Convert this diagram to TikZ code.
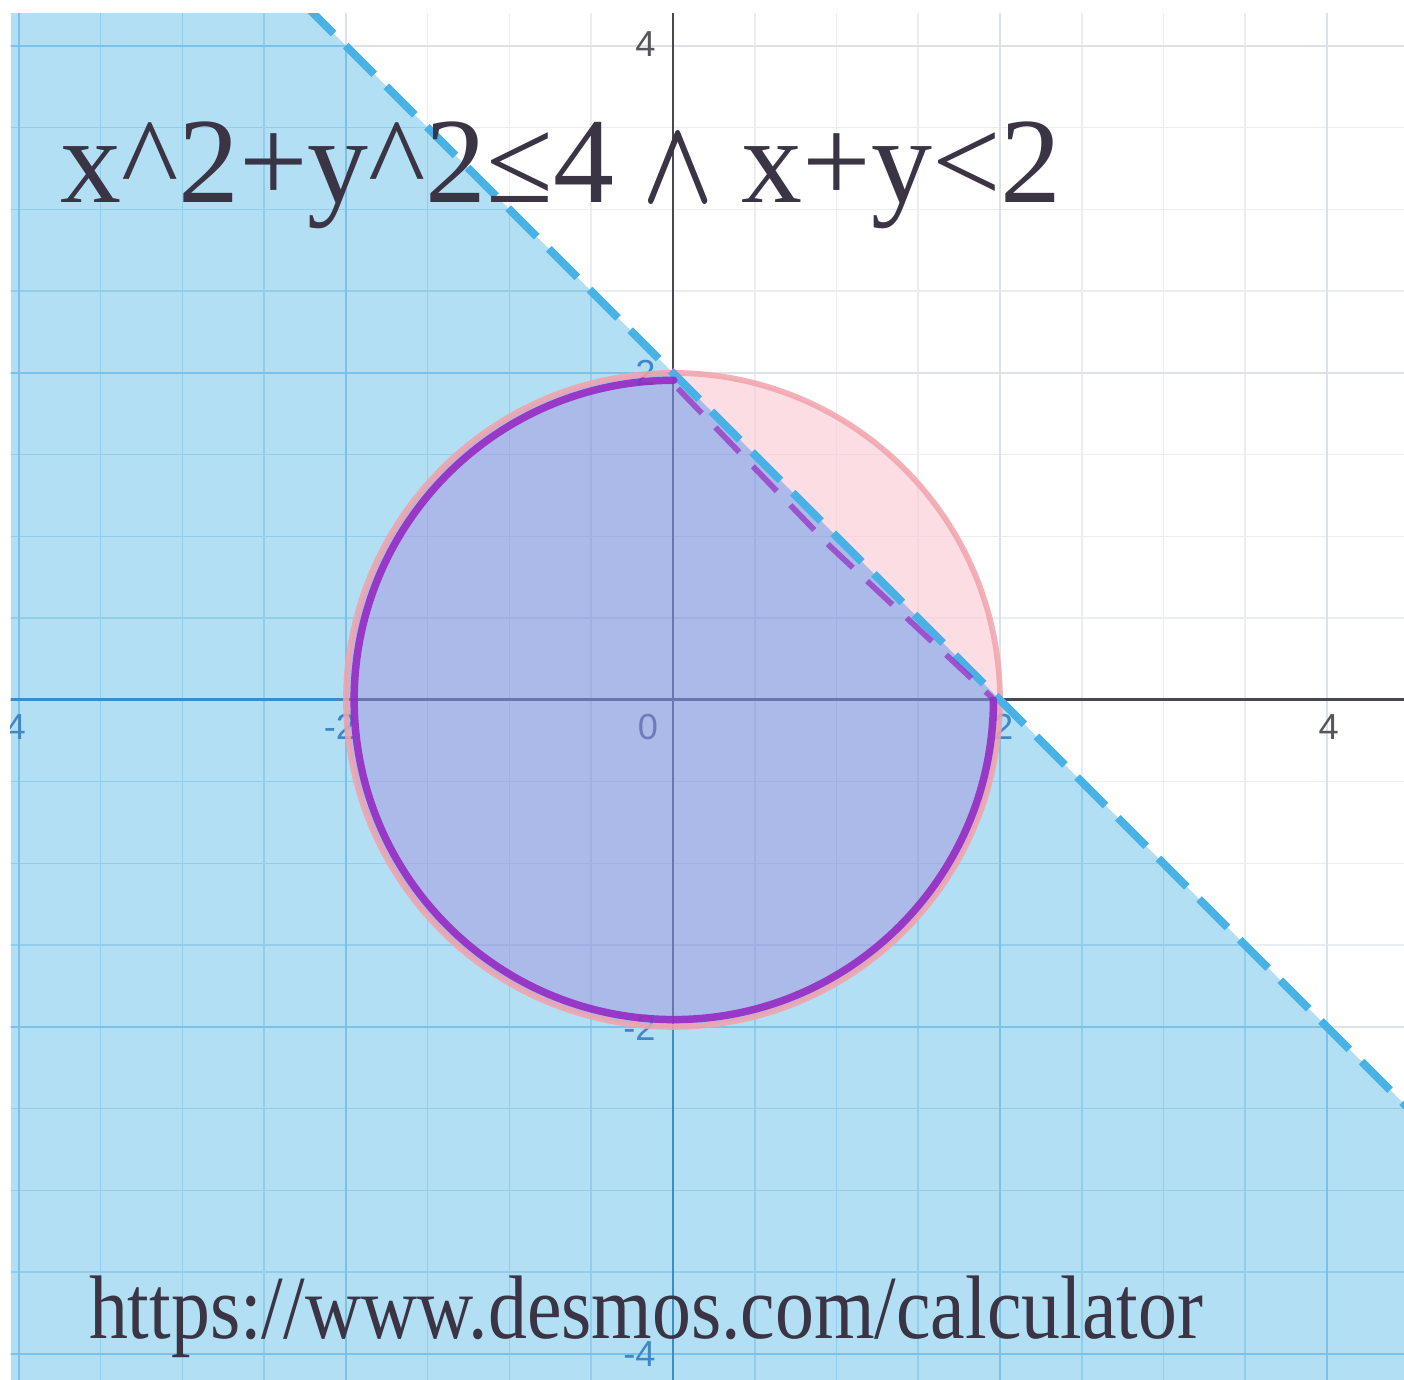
\documentclass[tikz,border=0pt]{standalone}
\usepackage{fontspec}
\setmainfont{Liberation Serif}
\newfontfamily\labelfont{Liberation Sans}
\usepackage{graphicx}
\usepackage{bm}
\definecolor{bluefill}{RGB}{178,223,244}
\definecolor{pinkfill}{RGB}{251,221,227}
\definecolor{purplefill}{RGB}{171,186,232}
\definecolor{gridW}{RGB}{234,238,241}
\definecolor{majorW}{RGB}{220,226,231}
\definecolor{axisW}{RGB}{72,72,80}
\definecolor{gridB}{RGB}{146,205,236}
\definecolor{majorB}{RGB}{124,193,231}
\definecolor{axisB}{RGB}{60,140,200}
\definecolor{gridP}{RGB}{243,214,222}
\definecolor{gridV}{RGB}{160,176,226}
\definecolor{majorV}{RGB}{150,167,222}
\definecolor{axisV}{RGB}{105,118,175}
\definecolor{labelW}{RGB}{85,85,92}
\definecolor{labelB}{RGB}{65,135,200}
\definecolor{labelV}{RGB}{110,125,185}
\definecolor{dashblue}{RGB}{72,178,230}
\definecolor{pinkedge}{RGB}{242,163,171}
\definecolor{penpurple}{RGB}{150,42,196}
\definecolor{textdark}{RGB}{58,52,68}
\newcommand\drawgridlines[3]{%
  \foreach \v in {-4,-3.5,-3,-2.5,-2,-1.5,-1,-0.5,0,0.5,1,1.5,2,2.5,3,3.5,4}{%
    \draw[line width=0.27pt,#1] (\v,-4.2) -- (\v,4.25);
    \draw[line width=0.27pt,#1] (-4.1,\v) -- (4.5,\v);
  }%
  \foreach \v in {-4,-2,2,4}{%
    \draw[line width=0.45pt,#2] (\v,-4.2) -- (\v,4.25);
    \draw[line width=0.45pt,#2] (-4.1,\v) -- (4.5,\v);
  }%
  \draw[line width=0.5pt,#3] (0,-4.2) -- (0,4.25);
  \draw[line width=0.5pt,#3] (-4.1,0) -- (4.5,0);
}
\begin{document}
\begin{tikzpicture}[x=1cm,y=1cm,
  axlbl/.style={font=\labelfont\fontsize{6.3}{7}\selectfont, inner sep=0pt},
  bigtext/.style={inner sep=0pt, text=textdark, anchor=base west},
  bluedash/.style={line width=1.39pt, dashblue, dash pattern=on 7pt off 3pt},
  pendash/.style={line width=1.0pt, penpurple, opacity=0.7, dash pattern=on 6pt off 3.4pt},
  penline/.style={line width=1.3pt, penpurple, opacity=0.9, line cap=round},
  circedge/.style={line width=1pt, pinkedge, opacity=0.85}]
\useasboundingbox (-4.116,-4.159) rectangle (4.471,4.281);
\fill[white] (-4.116,-4.159) rectangle (4.471,4.281);
\coordinate (O) at (0,0);
\coordinate (Lt) at (-2.25,4.25);
\coordinate (Lb) at (4.5,-2.5);
\coordinate (Ptop) at (0.005,1.955);
\coordinate (Pd1) at (0.03,1.905);
\coordinate (Pdm) at (0.96,0.94);
\coordinate (Pd2) at (1.95,0.015);
\begin{scope}
\clip (-4.05,-4.159) rectangle (4.471,4.20);
\drawgridlines{gridW}{majorW}{axisW}
% blue half-plane x+y<2
\fill[bluefill] (-4.1,4.25) -- (-2.25,4.25) -- (4.5,-2.5) -- (4.5,-4.2) -- (-4.1,-4.2) -- cycle;
\begin{scope}
\clip (-4.1,4.25) -- (-2.25,4.25) -- (4.5,-2.5) -- (4.5,-4.2) -- (-4.1,-4.2) -- cycle;
\drawgridlines{gridB}{majorB}{axisB}
\end{scope}
% pink segment (circle only)
\fill[pinkfill] (2,0) arc[start angle=0,end angle=90,radius=2] -- cycle;
\begin{scope}
\clip (2,0) arc[start angle=0,end angle=90,radius=2] -- cycle;
\drawgridlines{gridP}{gridP}{gridP}
\end{scope}
% overlap
\fill[purplefill] (0,2) arc[start angle=90,end angle=360,radius=2] -- cycle;
\begin{scope}
\clip (0,2) arc[start angle=90,end angle=360,radius=2] -- cycle;
\drawgridlines{gridV}{majorV}{axisV}
\end{scope}
% axis labels
\node[axlbl,text=labelB] (xm4) at (-4.02,-0.165) {\llap{-}4};
\node[axlbl,text=labelB] (xm2) at (-2,-0.165) {\llap{-}2};
\node[axlbl,text=labelV] (zero) at (-0.153,-0.165) {0};
\node[axlbl,text=labelB] (xp2) at (2.02,-0.165) {2};
\node[axlbl,text=labelW] (xp4) at (4.01,-0.165) {4};
\node[axlbl,text=labelW,anchor=east] (yp4) at (-0.1,4.01) {4};
\node[axlbl,text=labelB,anchor=east] (yp2) at (-0.1,2.0) {2};
\node[axlbl,text=labelB,anchor=east] (ym2) at (-0.1,-2.005) {-2};
\node[axlbl,text=labelB,anchor=east] (ym4) at (-0.1,-4.0) {-4};
% circle edge and boundary line
\draw[circedge] (O) circle[radius=2];
\draw[bluedash] (Lt) -- (Lb);
% hand-drawn purple outline
\draw[penline] (Ptop) arc[start angle=90,end angle=360,radius=1.955];
\draw[pendash] (Pd1) -- (Pdm) -- (Pd2);
\end{scope}
% texts
\node[bigtext,font=\fontsize{21.2}{25}\selectfont] (title) at (-3.755,3.040)
  {x\textasciicircum 2+y\textasciicircum 2≤4 \makebox[11.5pt]{\scalebox{0.78}[1]{$\bm{\wedge}$}} x+y<2};
\node[bigtext,font=\fontsize{15.7}{19}\selectfont] (url) at (-3.578,-3.908)
  {\scalebox{0.862}[1]{https://www.desmos.com/calculator}};
\end{tikzpicture}
\end{document}
